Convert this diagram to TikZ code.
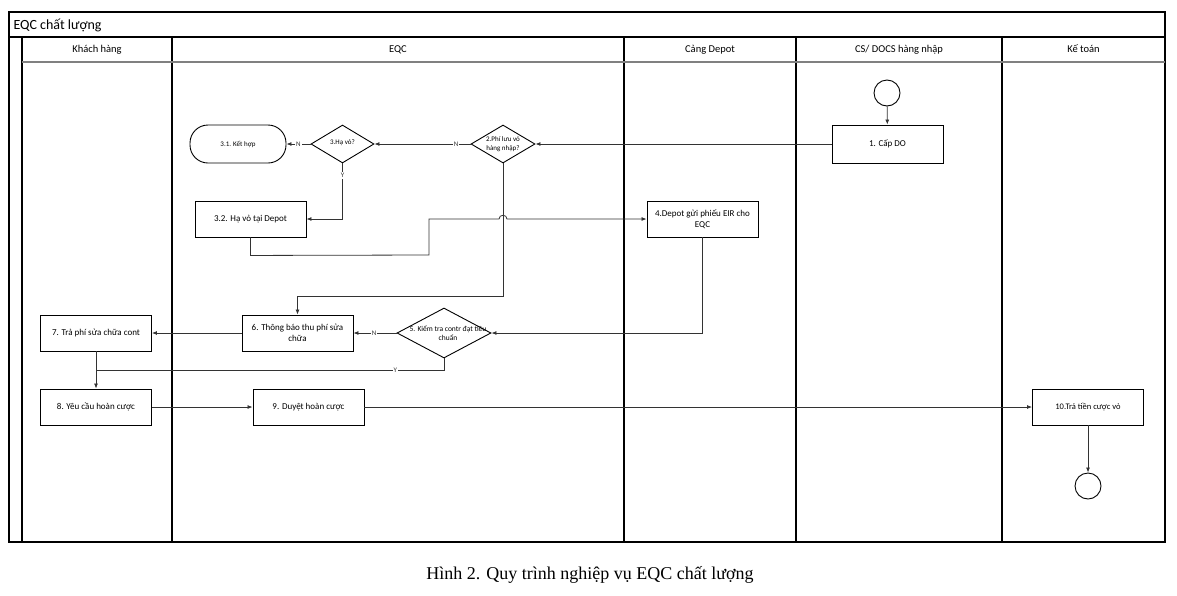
\documentclass[tikz,border=0pt]{standalone}
\usepackage{fontspec}
\setmainfont{Carlito}
\newfontfamily\captionfont{Liberation Serif}
\usetikzlibrary{shapes.geometric, arrows.meta}
\definecolor{line1}{rgb}{0.2, 0.2, 0.2}

\begin{document}
\begin{tikzpicture}[x = 1pt, y = -1pt,
  lane/.style = {line width = 1.2pt, black},
  head/.style = {anchor = base, font = \fontsize{10.5}{12}\selectfont},
  task/.style = {draw, line width = 0.9pt, minimum width = 111pt, minimum height = 36pt, align = center, inner sep = 2pt, font = \fontsize{9}{11}\selectfont},
  decide/.style = {draw, diamond, line width = 0.9pt, inner sep = 0pt},
  event/.style = {draw, circle, line width = 0.9pt, minimum size = 26pt, inner sep = 0pt},
  flow/.style = {line width = 0.8pt, line1, -{Latex[length = 5pt, width = 4pt]}},
  small/.style = {align = center, inner sep = 0pt, font = \fontsize{7}{9}\selectfont},
  tag/.style = {fill = white, inner sep = 1pt, text = line1, font = \fontsize{7}{8}\selectfont}]

\useasboundingbox (0, 0) rectangle (1177, 595);

\draw [lane] (9, 12) rectangle (1165, 542);
\draw [lane] (9, 37) -- (1165, 37);
\draw [lane] (22, 37) -- (22, 542);
\foreach \x in {172, 624, 796, 1002} \draw [lane] (\x, 37) -- (\x, 542);
\draw [line width = 2pt, gray] (22, 61.5) -- (1165, 61.5);

\node [anchor = base west, font = \fontsize{14}{16}\selectfont] (pool) at (10, 29) {EQC chất lượng};
\node [head] (lkh) at (97, 52.5) {Khách hàng};
\node [head] (leqc) at (398, 52.5) {EQC};
\node [head] (ldepot) at (710, 52.5) {Cảng Depot};
\node [head] (ldocs) at (899, 52.5) {CS/ DOCS hàng nhập};
\node [head] (lkt) at (1083.5, 52.5) {Kế toán};

\node [event] (start) at (887, 93) {};
\node [task, minimum height = 38pt] (b1) at (887.5, 144) {1. Cấp DO};
\node [decide, minimum width = 64pt, minimum height = 38pt] (d2) at (503, 144) {};
\node [small] (t2) at (503, 144) {2.Phí lưu vỏ\\hàng nhập?};
\node [decide, minimum width = 63pt, minimum height = 38pt] (d3) at (342.5, 144) {};
\node [small] (t3) at (342.5, 143) {3.Hạ vỏ?};
\node [draw, line width = 0.9pt, rounded corners = 18pt, minimum width = 96pt, minimum height = 38pt, small] (b31) at (238, 144) {3.1. Kết hợp};
\node [task] (b32) at (250.5, 219) {3.2. Hạ vỏ tại Depot};
\node [task] (b4) at (702.5, 219) {4.Depot gửi phiếu EIR cho\\EQC};
\node [decide, minimum width = 94pt, minimum height = 50pt] (d5) at (444, 333) {};
\node [small, font = \fontsize{7.5}{9.5}\selectfont] (t5) at (448, 333) {5. Kiểm tra contr đạt tiêu\\chuẩn};
\node [task] (b6) at (297.5, 333) {6. Thông báo thu phí sửa\\chữa};
\node [task] (b7) at (96, 333) {7. Trả phí sửa chữa cont};
\node [task] (b8) at (96, 407) {8. Yêu cầu hoàn cược};
\node [task] (b9) at (308.5, 407) {9. Duyệt hoàn cược};
\node [task, font = \fontsize{8.5}{10}\selectfont] (b10) at (1088, 407) {10.Trả tiền cược vỏ};
\node [event] (stop) at (1088, 486) {};
\coordinate (j8) at (96, 370);

\draw [flow] (start) -- (b1);
\draw [flow] (b1) -- (d2);
\draw [flow] (d2) -- node [tag, pos = 0.15] {N} (d3);
\draw [flow] (d3) -- node [tag, pos = 0.5] {N} (b31);
\draw [flow] (d3.south) |- node [tag, pos = 0.11] {Y} (b32.east);
\draw [flow] (d2.south) -- ++(0, 133) -| (b6.north);
\draw [flow] (b32.south) -- ++(0, 18) -- (429, 255) -- (429, 219) -- (499, 219) .. controls (499, 214) and (507, 214) .. (507, 219) -- (b4.west);
\draw [flow] (b4.south) |- (d5.east);
\draw [flow] (d5.west) -- node [tag, pos = 0.52] {N} (b6.east);
\draw [flow] (b6) -- (b7);
\draw [line width = 0.8pt, line1] (d5.south) |- node [tag, pos = 0.57] {Y} (j8);
\draw [flow] (b7) -- (b8);
\draw [flow] (b8) -- (b9);
\draw [flow] (b9) -- (b10);
\draw [flow] (b10) -- (stop);

\node [font = \captionfont\fontsize{18}{21}\selectfont] (caption) at (590, 575) {Hình 2. Quy trình nghiệp vụ EQC chất lượng};

\end{tikzpicture}
\end{document}
